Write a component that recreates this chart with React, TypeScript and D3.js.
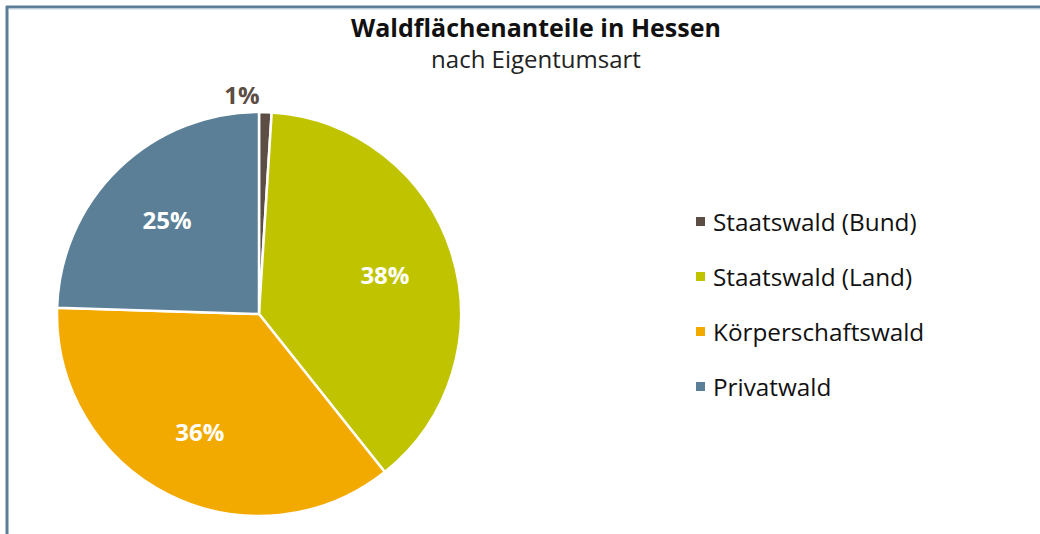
import React from "react";
import * as d3 from "d3";

const categories = ["Staatswald (Bund)", "Staatswald (Land)", "Körperschaftswald", "Privatwald"];
const values = [1, 38.3, 36.2, 24.5];
const valueLabels = ["1%", "38%", "36%", "25%"];
const colors = ["#5c4d45", "#c0c400", "#f3aa00", "#5b7f96"];
const title = "Waldflächenanteile in Hessen";
const subtitle = "nach Eigentumsart";

const W = 1040;
const H = 534;
const FONT = "'Open Sans', 'Noto Sans', sans-serif";

export default function App() {
  const cx = 259;
  const cy = 314;
  const r = 202;
  const pie = d3.pie<number>().sort(null).value((d) => d);
  const arcs = pie(values);
  const arc = d3.arc<d3.PieArcDatum<number>>().innerRadius(0).outerRadius(r);
  const labelArc = d3.arc<d3.PieArcDatum<number>>().innerRadius(132).outerRadius(132);
  const outerArc = d3.arc<d3.PieArcDatum<number>>().innerRadius(220).outerRadius(220);

  const legendY = d3.scalePoint<string>().domain(categories).range([221, 386]);

  return (
    <svg width={W} height={H} style={{ position: "absolute", left: 0, top: 0, background: "#fff" }}>
      <rect x={0} y={0} width={W} height={H} fill="#fff" />
      <line x1={6} x2={W} y1={7} y2={7} stroke="#5b7f96" strokeWidth={3} />
      <line x1={7} x2={7} y1={6} y2={H} stroke="#5b7f96" strokeWidth={3} />
      <line x1={9} x2={W} y1={9} y2={9} stroke="#c9d6df" strokeWidth={1} />
      <text x={536} y={37} textAnchor="middle" fontFamily={FONT} fontWeight="bold" fontSize={25} fill="#111">
        {title}
      </text>
      <text x={536} y={68} textAnchor="middle" fontFamily={FONT} fontSize={24} fill="#222">
        {subtitle}
      </text>
      <g transform={`translate(${cx},${cy})`}>
        {arcs.map((a, i) => (
          <path key={i} d={arc(a) || ""} fill={colors[i]} stroke="#fff" strokeWidth={2.5} strokeLinejoin="round" />
        ))}
        {arcs.map((a, i) => {
          const inside = i > 0;
          const [x, y] = inside ? labelArc.centroid(a) : outerArc.centroid(a);
          return (
            <text
              key={"l" + i}
              x={inside ? x : x - 24}
              y={y}
              textAnchor="middle"
              dominantBaseline="central"
              fontFamily={FONT}
              fontWeight="bold"
              fontSize={24}
              fill={inside ? "#fff" : colors[0]}
            >
              {valueLabels[i]}
            </text>
          );
        })}
      </g>
      {categories.map((c, i) => (
        <g key={"g" + i} transform={`translate(696,${legendY(c)})`}>
          <rect x={0} y={-4} width={9} height={9} fill={colors[i]} />
          <text x={17} y={0} dominantBaseline="central" fontFamily={FONT} fontSize={24.3} fill="#111">
            {c}
          </text>
        </g>
      ))}
    </svg>
  );
}
